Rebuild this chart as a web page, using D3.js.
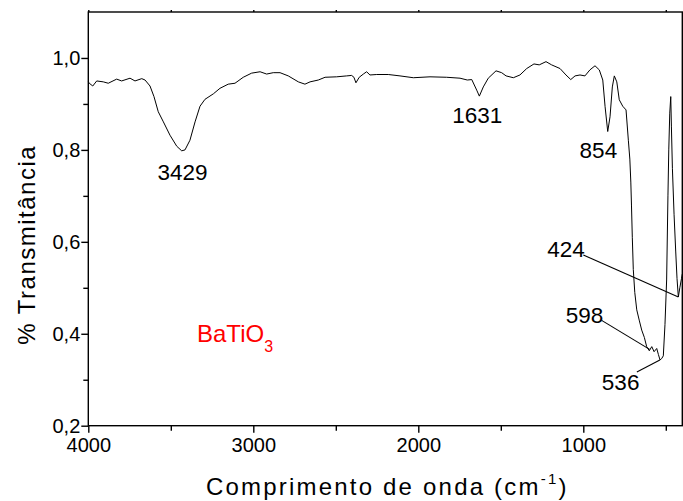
<!DOCTYPE html>
<html>
<head>
<meta charset="utf-8">
<script src="https://cdn.jsdelivr.net/npm/d3@7"></script>
<style>
  html, body { margin: 0; padding: 0; background: #fff; }
  svg { display: block; font-family: "Liberation Sans", Arial, sans-serif; }
</style>
</head>
<body>
<svg id="chart" width="683" height="501"></svg>
<script>
// ---- data ----
const wavenumber = [4000,3994,3973,3949,3909,3879,3828,3798,3747,3717,3676,3656,3626,3602,3576,3545,3505,3464,3434,3414,3384,3353,3323,3293,3242,3202,3152,3111,3061,3010,2959,2919,2879,2838,2788,2727,2687,2656,2606,2565,2495,2434,2404,2390,2378,2358,2333,2313,2293,2252,2182,2111,2030,1929,1828,1747,1703,1676,1646,1630,1606,1576,1529,1495,1468,1424,1384,1343,1299,1267,1226,1192,1141,1105,1076,1050,1020,990,960,929,903,882,868,852,838,824,812,797,782,761,741,727,718,712,708,703,697,688,676,660,646,630,616,600,585,571,555,545,535,525,515,505,495,487,482,476,470,466,460,450,440,432,424,415,405,400];
const transmittance = [0.948,0.945,0.939,0.950,0.948,0.945,0.954,0.950,0.956,0.950,0.955,0.952,0.939,0.916,0.883,0.861,0.832,0.808,0.798,0.800,0.821,0.861,0.895,0.910,0.922,0.934,0.943,0.945,0.958,0.967,0.970,0.965,0.968,0.968,0.961,0.948,0.943,0.948,0.952,0.958,0.959,0.961,0.962,0.958,0.946,0.958,0.965,0.970,0.963,0.964,0.964,0.961,0.957,0.959,0.958,0.956,0.952,0.953,0.930,0.917,0.937,0.956,0.972,0.968,0.961,0.957,0.963,0.977,0.987,0.985,0.992,0.985,0.977,0.963,0.953,0.961,0.963,0.961,0.974,0.983,0.974,0.952,0.894,0.840,0.872,0.937,0.961,0.948,0.909,0.895,0.887,0.821,0.780,0.730,0.680,0.610,0.540,0.490,0.452,0.428,0.408,0.392,0.372,0.363,0.372,0.361,0.368,0.355,0.343,0.346,0.352,0.420,0.517,0.700,0.800,0.880,0.916,0.850,0.760,0.660,0.580,0.520,0.480,0.500,0.520,0.530];

const xMajorTicks = [4000, 3000, 2000, 1000];
const xMinorTicks = [3500, 2500, 1500, 500];
const yMajorTicks = [0.2, 0.4, 0.6, 0.8, 1.0];
const yMinorTicks = [0.3, 0.5, 0.7, 0.9];

const peakLabels = ["3429", "1631", "854", "424", "598", "536"];
const peakWavenumbers = [3429, 1631, 854, 424, 598, 536];
const peakValues = [0.798, 0.917, 0.840, 0.480, 0.366, 0.343];

const sampleName = "BaTiO";
const sampleSub = "3";
const xTitle = "Comprimento de onda (cm";
const xTitleSup = "-1";
const yTitle = "% Transmitância";

// ---- layout ----
const W = 683, H = 501;
const m = { left: 88.3, top: 12, right: 0.7, bottom: 75.3 };
const svg = d3.select("#chart");

const x = d3.scaleLinear().domain([4000, 400]).range([m.left, W - m.right]);
const y = d3.scaleLinear().domain([0.2, 1.1]).range([H - m.bottom, m.top]);

const fmt = v => d3.format(".1f")(v).replace(".", ",");

// frame
svg.append("rect")
  .attr("x", x(4000)).attr("y", y(1.1))
  .attr("width", x(400) - x(4000)).attr("height", y(0.2) - y(1.1))
  .attr("fill", "none").attr("stroke", "#000").attr("stroke-width", 1.4);

// bottom axis
const gx = svg.append("g").attr("transform", `translate(0,${y(0.2)})`)
  .call(d3.axisBottom(x).tickValues(xMajorTicks).tickFormat(d3.format("d")).tickSize(7).tickPadding(5));
const gxm = svg.append("g").attr("transform", `translate(0,${y(0.2)})`)
  .call(d3.axisBottom(x).tickValues(xMinorTicks).tickFormat("").tickSize(5));
// top ticks
const gxt = svg.append("g").attr("transform", `translate(0,${y(1.1)})`)
  .call(d3.axisTop(x).tickValues(xMajorTicks.concat(xMinorTicks)).tickFormat("").tickSize(2));

// left axis
const gy = svg.append("g").attr("transform", `translate(${x(4000)},0)`)
  .call(d3.axisLeft(y).tickValues(yMajorTicks).tickFormat(fmt).tickSize(7).tickPadding(1));
const gym = svg.append("g").attr("transform", `translate(${x(4000)},0)`)
  .call(d3.axisLeft(y).tickValues(yMinorTicks).tickFormat("").tickSize(5));

[gx, gxm, gxt, gy, gym].forEach(g => {
  g.select(".domain").remove();
  g.selectAll(".tick line").attr("stroke", "#000").attr("stroke-width", 1.4);
  g.selectAll("text").attr("fill", "#000").attr("font-size", 20)
    .attr("font-family", '"Liberation Sans", Arial, sans-serif');
});

// spectrum line
const pts = wavenumber.map((w, i) => [w, transmittance[i]]);
svg.append("path")
  .datum(pts)
  .attr("fill", "none").attr("stroke", "#000").attr("stroke-width", 1)
  .attr("d", d3.line().x(d => x(d[0])).y(d => y(d[1])));

// peak annotations: label offsets (px) relative to peak point; leader when present
const labelLayout = {
  "3429": { dx: 0, dy: 29, anchor: "middle", leader: false },
  "1631": { dx: -2, dy: 27, anchor: "middle", leader: false },
  "854":  { dx: -9, dy: 26, anchor: "middle", leader: false },
  "424":  { dx: -131, dy: -40, anchor: "start", leader: [-95, -42] },
  "598":  { dx: -84, dy: -26, anchor: "start", leader: [-48, -29] },
  "536":  { dx: -58, dy: 30, anchor: "start", leader: [-23, 12] }
};
peakLabels.forEach((lab, i) => {
  const px = x(peakWavenumbers[i]), py = y(peakValues[i]);
  const L = labelLayout[lab];
  if (L.leader) {
    svg.append("line")
      .attr("x1", px + L.leader[0]).attr("y1", py + L.leader[1])
      .attr("x2", px).attr("y2", py)
      .attr("stroke", "#000").attr("stroke-width", 1.1);
  }
  svg.append("text")
    .attr("x", px + L.dx).attr("y", py + L.dy)
    .attr("text-anchor", L.anchor)
    .attr("font-size", 22.5).attr("fill", "#000")
    .text(lab);
});

// sample name
const st = svg.append("text").attr("x", 197).attr("y", 342)
  .attr("font-size", 24).attr("fill", "#ff0000");
st.append("tspan").text(sampleName);
st.append("tspan").attr("font-size", 16).attr("dy", 10).text(sampleSub);

// x title
const xt = svg.append("text")
  .attr("x", (x(4000) + x(400)) / 2 + 2).attr("y", 495)
  .attr("text-anchor", "middle").attr("font-size", 24).attr("letter-spacing", 2.2)
  .attr("fill", "#000");
xt.append("tspan").text(xTitle);
xt.append("tspan").attr("font-size", 15).attr("dy", -11).text(xTitleSup);
xt.append("tspan").attr("dy", 11).text(")");

// y title
svg.append("text")
  .attr("transform", `translate(35,${(y(0.2) + y(1.1)) / 2 + 26}) rotate(-90)`)
  .attr("text-anchor", "middle").attr("font-size", 24).attr("letter-spacing", 1.5)
  .attr("fill", "#000")
  .text(yTitle);
</script>
</body>
</html>
